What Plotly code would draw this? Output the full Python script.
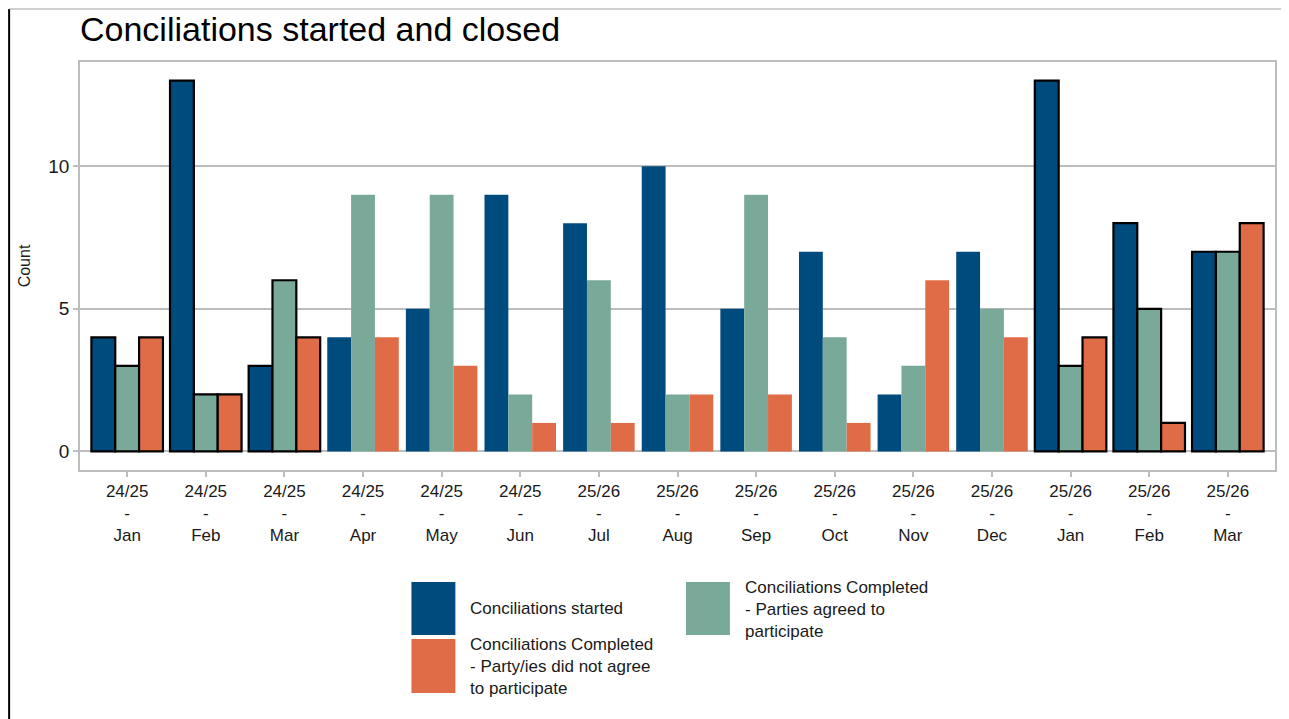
import plotly.graph_objects as go

years = ["24/25"] * 6 + ["25/26"] * 9
months = ["Jan", "Feb", "Mar", "Apr", "May", "Jun", "Jul", "Aug", "Sep", "Oct", "Nov", "Dec", "Jan", "Feb", "Mar"]
tick_labels = [f"{y}<br>-<br>{m}" for y, m in zip(years, months)]

started = [4, 13, 3, 4, 5, 9, 8, 10, 5, 7, 2, 7, 13, 8, 7]
agreed = [3, 2, 6, 9, 9, 2, 6, 2, 9, 4, 3, 5, 3, 5, 7]
not_agreed = [4, 2, 4, 4, 3, 1, 1, 2, 2, 1, 6, 4, 4, 1, 8]
highlight = [1, 1, 1, 0, 0, 0, 0, 0, 0, 0, 0, 0, 1, 1, 1]

series_names = [
    "Conciliations started",
    "Conciliations Completed - Parties agreed to participate",
    "Conciliations Completed - Party/ies did not agree to participate",
]
colors = ["#004b7e", "#79a999", "#e06b47"]

FONT = "Liberation Sans, Arial, sans-serif"
x = list(range(len(months)))

fig = go.Figure()
for name, vals, col in zip(series_names, [started, agreed, not_agreed], colors):
    fig.add_trace(go.Bar(
        x=x, y=vals, name=name,
        marker=dict(color=col,
                    line=dict(color="black", width=[2.2 if h else 0 for h in highlight])),
        showlegend=False,
    ))

# page offset (browser body margin) and screen-pixel layout
OFF = 8
W, H = 1289 - OFF, 719 - OFF
L, R, T, B = 80 - OFF, 12, 62 - OFF, 249
pw, ph = W - L - R, H - T - B


def px(xs):
    return (xs - OFF - L) / pw


def py(ys):
    return (H - B - (ys - OFF)) / ph


shapes = []
annotations = []

# custom legend
legend_boxes = [
    (412, 456, 582, 635, colors[0]),
    (412, 456, 639, 693, colors[2]),
    (687, 731, 582, 635, colors[1]),
]
for x0, x1, y0, y1, c in legend_boxes:
    shapes.append(dict(type="rect", xref="paper", yref="paper",
                       x0=px(x0), x1=px(x1), y0=py(y1), y1=py(y0),
                       fillcolor=c, line=dict(width=0)))
legend_texts = [
    (469, 608, "Conciliations started"),
    (469, 666, "Conciliations Completed<br>- Party/ies did not agree<br>to participate"),
    (744, 609, "Conciliations Completed<br>- Parties agreed to<br>participate"),
]
for xt, yt, t in legend_texts:
    annotations.append(dict(xref="paper", yref="paper", x=px(xt), y=py(yt),
                            xanchor="left", yanchor="middle", align="left",
                            text=t, showarrow=False,
                            font=dict(size=17, color="#1a1a1a", family=FONT)))

# outer frame lines
shapes.append(dict(type="line", xref="paper", yref="paper",
                   x0=px(9), x1=px(9), y0=py(9), y1=py(719),
                   line=dict(color="black", width=2)))
shapes.append(dict(type="line", xref="paper", yref="paper",
                   x0=px(9), x1=px(1289), y0=py(9), y1=py(9),
                   line=dict(color="#a0a0a0", width=1)))

fig.update_layout(
    width=W, height=H,
    margin=dict(l=L, r=R, t=T, b=B),
    paper_bgcolor="white", plot_bgcolor="white",
    barmode="group", bargap=0.09, bargroupgap=0,
    title=dict(text="Conciliations started and closed", xref="paper", x=0, xanchor="left",
               y=1 - (29 - OFF) / H, yanchor="middle",
               font=dict(size=34, color="black", family=FONT)),
    font=dict(family=FONT, color="#1a1a1a"),
    shapes=shapes,
    annotations=annotations,
    showlegend=False,
)
fig.update_xaxes(
    tickmode="array", tickvals=x, ticktext=tick_labels,
    range=[-0.6, len(months) - 0.4],
    showline=True, mirror=True, linecolor="#bdbdbd", linewidth=1.5,
    ticks="outside", ticklen=5, tickcolor="#bdbdbd", tickwidth=1.5,
    tickfont=dict(size=17, color="#1a1a1a"),
    showgrid=False, zeroline=False,
)
fig.update_yaxes(
    tickmode="array", tickvals=[0, 5, 10], ticktext=["0", "5", "10"],
    range=[-0.65, 13.65],
    showline=True, mirror=True, linecolor="#bdbdbd", linewidth=1.5,
    ticks="outside", ticklen=5, tickcolor="#bdbdbd", tickwidth=1.5,
    tickfont=dict(size=19, color="#1a1a1a"),
    showgrid=True, gridcolor="#bdbdbd", gridwidth=1.5, zeroline=False,
    title=dict(text="Count", font=dict(size=16, color="#1a1a1a"), standoff=14),
)

fig.write_html("out.html")
